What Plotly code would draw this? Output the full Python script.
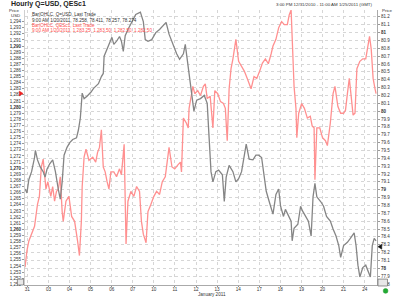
import plotly.graph_objects as go

# ---------------- data ----------------
day_labels = ["31", "03", "04", "05", "06", "07", "10", "11", "12", "13",
              "14", "17", "18", "19", "20", "21", "24"]

# QESc1 (left axis) - position in trading days since 31 Dec, price
es_x = [-0.11, -0.02, 0.07, 0.20, 0.34, 0.48, 0.57, 0.66, 0.75, 0.88, 0.97, 1.11, 1.20, 1.29, 1.38,
        1.47, 1.56, 1.65, 1.70, 1.83, 1.97, 2.10, 2.24, 2.38, 2.47, 2.56, 2.60, 2.69, 2.78, 2.92,
        3.10, 3.24, 3.33, 3.42, 3.51, 3.60, 3.69, 3.78, 3.87, 3.96, 4.10, 4.23, 4.37, 4.46, 4.55,
        4.59, 4.68, 4.77, 4.91, 5.05, 5.18, 5.32, 5.41, 5.50, 5.63, 5.72, 5.86, 6.00, 6.13, 6.27,
        6.40, 6.54, 6.63, 6.72, 6.86, 6.99, 7.13, 7.26, 7.31, 7.40, 7.54, 7.63, 7.67, 7.76, 7.85,
        7.94, 8.08, 8.21, 8.35, 8.44, 8.53, 8.67, 8.80, 8.89, 9.03, 9.16, 9.30, 9.39, 9.48, 9.57,
        9.66, 9.75, 9.84, 9.89, 10.02, 10.16, 10.29, 10.43, 10.52, 10.61, 10.75, 10.88, 11.02, 11.15,
        11.29, 11.43, 11.56, 11.65, 11.79, 11.92, 12.06, 12.19, 12.33, 12.42, 12.51, 12.56, 12.60,
        12.65, 12.74, 12.78, 12.87, 13.01, 13.14, 13.28, 13.42, 13.51, 13.60, 13.64, 13.73, 13.87,
        14.00, 14.14, 14.23, 14.37, 14.50, 14.59, 14.73, 14.86, 15.00, 15.09, 15.18, 15.27, 15.37,
        15.45, 15.54, 15.63, 15.77, 15.91, 16.05, 16.14, 16.23, 16.31, 16.40, 16.49, 16.54]
es_y = [1253.8, 1256.5, 1258.1, 1259.2, 1260.5, 1264.1, 1265.4, 1270.2, 1271.5, 1266.6, 1267.8, 1265.4,
        1267.0, 1264.6, 1266.2, 1266.6, 1268.6, 1262.9, 1261.3, 1264.6, 1265.4, 1262.1, 1261.3, 1258.1,
        1255.7, 1261.3, 1267.0, 1271.8, 1273.1, 1271.3, 1271.8, 1271.0, 1272.6, 1273.4, 1276.3, 1270.2,
        1269.4, 1267.8, 1266.6, 1269.4, 1269.4, 1268.6, 1269.9, 1268.9, 1271.8, 1273.9, 1257.6, 1264.6,
        1266.2, 1265.4, 1267.0, 1266.2, 1261.3, 1259.2, 1257.8, 1262.9, 1264.1, 1265.4, 1266.2, 1265.7,
        1267.8, 1268.6, 1271.0, 1273.4, 1270.2, 1269.9, 1270.5, 1271.0, 1269.4, 1278.2, 1277.4, 1276.6,
        1279.8, 1281.4, 1283.4, 1282.2, 1282.7, 1281.9, 1283.4, 1283.8, 1281.4, 1281.8, 1276.6, 1282.7,
        1282.2, 1280.9, 1280.6, 1279.8, 1274.5, 1283.0, 1286.3, 1287.9, 1289.8, 1291.1, 1287.5, 1286.6,
        1285.9, 1284.7, 1283.8, 1283.0, 1285.0, 1284.7, 1285.9, 1287.2, 1287.9, 1287.1, 1288.7, 1290.0,
        1291.1, 1293.0, 1294.0, 1293.5, 1293.5, 1295.1, 1295.9, 1291.9, 1287.9, 1283.4, 1279.8, 1275.0,
        1279.0, 1280.6, 1279.8, 1278.2, 1278.5, 1276.9, 1276.6, 1268.1, 1276.6, 1276.6, 1275.0, 1274.5,
        1273.7, 1277.4, 1282.2, 1283.4, 1280.1, 1279.0, 1279.0, 1279.5, 1282.2, 1284.7, 1281.4, 1278.7,
        1279.0, 1286.3, 1287.5, 1287.9, 1287.9, 1289.5, 1291.6, 1289.5, 1284.7, 1283.0, 1282.2]

# Q=USD (right axis)
usd_x = [-0.11, -0.02, 0.07, 0.20, 0.34, 0.38, 0.48, 0.61, 0.75, 0.84, 0.93, 1.06, 1.20, 1.33, 1.47,
         1.56, 1.65, 1.74, 1.88, 2.01, 2.15, 2.33, 2.42, 2.51, 2.60, 2.69, 2.83, 3.01, 3.14, 3.37,
         3.51, 3.60, 3.64, 3.78, 3.87, 4.01, 4.10, 4.23, 4.37, 4.46, 4.55, 4.64, 4.77, 4.95, 5.14,
         5.36, 5.50, 5.59, 5.72, 5.90, 6.09, 6.27, 6.45, 6.58, 6.72, 6.90, 7.08, 7.22, 7.40, 7.49,
         7.63, 7.76, 7.90, 8.03, 8.21, 8.39, 8.53, 8.62, 8.71, 8.80, 8.94, 9.07, 9.25, 9.34, 9.43,
         9.57, 9.75, 9.89, 10.02, 10.16, 10.29, 10.38, 10.52, 10.70, 10.84, 10.97, 11.11, 11.24, 11.33,
         11.47, 11.65, 11.79, 11.92, 12.01, 12.15, 12.24, 12.38, 12.51, 12.56, 12.65, 12.83, 12.96,
         13.05, 13.19, 13.33, 13.46, 13.55, 13.64, 13.73, 13.91, 14.05, 14.19, 14.37, 14.50, 14.64,
         14.77, 14.86, 15.00, 15.18, 15.32, 15.50, 15.59, 15.68, 15.77, 15.91, 16.05, 16.18, 16.27,
         16.36, 16.45, 16.54]
usd_y = [79.01, 78.96, 79.13, 79.23, 79.41, 79.50, 79.38, 79.29, 79.23, 79.16, 79.26, 79.33, 79.38,
         79.23, 79.00, 78.88, 79.10, 79.44, 79.54, 79.60, 79.64, 79.66, 79.76, 79.91, 80.23, 80.16,
         80.19, 80.24, 80.29, 80.35, 80.44, 80.48, 80.70, 80.79, 80.85, 80.94, 80.85, 80.89, 80.95,
         80.89, 80.76, 80.96, 81.04, 81.14, 81.23, 81.26, 81.14, 80.91, 80.89, 80.91, 81.00, 81.04,
         81.09, 81.13, 80.98, 80.85, 80.73, 80.66, 80.73, 80.85, 80.54, 80.25, 80.00, 80.14, 80.16,
         80.20, 80.10, 79.66, 79.23, 79.10, 79.23, 79.25, 79.19, 78.85, 79.16, 79.31, 79.23, 79.10,
         79.14, 79.23, 79.41, 79.58, 79.39, 79.38, 79.44, 79.44, 79.41, 79.19, 78.98, 78.85, 78.69,
         78.94, 79.01, 78.79, 78.66, 78.75, 78.66, 78.60, 78.35, 78.51, 78.56, 78.79, 78.73, 78.66,
         78.60, 78.41, 78.91, 79.08, 78.91, 78.85, 78.79, 78.66, 78.60, 78.50, 78.41, 78.29, 78.14,
         78.29, 78.33, 78.38, 78.45, 78.29, 78.04, 77.89, 78.01, 78.04, 77.94, 77.89, 78.29, 78.38,
         78.35]

left_ticks = list(range(1251, 1295))
right_ticks = [round(77.8 + 0.1 * i, 1) for i in range(35)]

# ---------------- layout helpers ----------------
W, H = 400, 302
L, R, T, B = 17, 14, 10, 12
PW, PH = W - L - R, H - T - B


def px(x):
    return (x - L) / PW


def py(y):
    return (H - B - y) / PH


FONT = "Liberation Sans, Arial, sans-serif"

left_text = [("<b>{:,}</b>".format(v) if v % 10 == 0 else "{:,}".format(v)) for v in left_ticks]
right_text = [("<b>%d</b>" % round(v)) if abs(v - round(v)) < 1e-6 else ("%.1f" % v) for v in right_ticks]

fig = go.Figure()
fig.add_trace(go.Scatter(x=es_x, y=es_y, mode="lines", yaxis="y",
                         line=dict(color="#ff9090", width=1.3), name="QESc1"))
fig.add_trace(go.Scatter(x=usd_x, y=usd_y, mode="lines", yaxis="y2",
                         line=dict(color="#858585", width=1.3), name="Q=USD"))

GRID = "#d6d6d6"
fig.update_layout(
    width=W, height=H, margin=dict(l=L, r=R, t=T, b=B, pad=0),
    paper_bgcolor="white", plot_bgcolor="white", showlegend=False,
    font=dict(family=FONT, size=5, color="#333333"),
    xaxis=dict(range=[-0.113, 16.584], tickvals=list(range(len(day_labels))), ticktext=day_labels,
               showgrid=True, gridcolor=GRID, griddash="dot", gridwidth=1,
               ticks="outside", ticklen=1, tickcolor="#888", tickfont=dict(size=4.6, color="#333"),
               ticklabelstandoff=-2,
               showline=True, linecolor="#aaaaaa", zeroline=False),
    yaxis=dict(range=[1250.88, 1295.9], tickvals=left_ticks, ticktext=left_text, side="left",
               showgrid=False, ticks="outside", ticklen=2, tickcolor="#999",
               tickfont=dict(size=4.5, color="#333"), showline=True, linecolor="#d0d0d0",
               zeroline=False),
    yaxis2=dict(range=[77.7875, 81.2875], tickvals=right_ticks, ticktext=right_text, side="right",
                overlaying="y", showgrid=True, gridcolor=GRID, griddash="dot", gridwidth=1,
                ticks="outside", ticklen=2, tickcolor="#999", tickfont=dict(size=4.5, color="#333"),
                showline=True, linecolor="#aaaaaa", zeroline=False),
)

ann = []


def text(x, y, s, size=5, color="#333", xanchor="left", bold=False):
    ann.append(dict(x=px(x), y=py(y), xref="paper", yref="paper", text=("<b>%s</b>" % s) if bold else s,
                    showarrow=False, xanchor=xanchor, yanchor="middle",
                    font=dict(size=size, color=color, family=FONT)))


text(0, 3.8, "Hourly Q=USD, QESc1", size=7, color="#222", bold=True)
text(384, 4, "3:00 PM 12/31/2010 - 11:00 AM 1/25/2011 (GMT)", size=4.4, xanchor="right")
text(14, 10.5, "Price", size=4.4, xanchor="right")
text(14, 15.5, "USD", size=4.4, xanchor="right")
text(389, 10, "Price", size=4.4)
text(22, 15, "Bar|OHLC, Q=USD, Last Trade", size=4.6, color="#333")
text(22, 20.5, "9:00 AM 1/20/2011, 78.258, 78.411, 78.257, 78.274", size=4.6, color="#333")
text(22, 25.5, "Bar|OHLC, QESc1, Last Trade", size=4.6, color="#ff5050")
text(22, 31, "9:00 AM 1/20/2011, 1,283.25, 1,283.50, 1,282.50, 1,282.50", size=4.6, color="#ff5050")
text(213, 299.3, "January 2011", size=4.6, xanchor="center")
fig.update_layout(annotations=ann)

shapes = [
    # scale boxes
    dict(type="rect", xref="paper", yref="paper", x0=px(9), x1=px(15.5), y0=py(290), y1=py(284),
         line=dict(color="#777", width=0.8), fillcolor="#e8e8e8"),
    dict(type="rect", xref="paper", yref="paper", x0=px(387), x1=px(397), y0=py(291), y1=py(284),
         line=dict(color="#777", width=0.8), fillcolor="#e8e8e8"),
    # green status dot
    dict(type="circle", xref="paper", yref="paper", x0=px(392.5), x1=px(397.5), y0=py(298.5), y1=py(293.5),
         line=dict(color="#1a9a2a", width=0.5), fillcolor="#22aa33"),
    # last-value markers
    dict(type="path", xref="paper", yref="paper",
         path="M %f %f L %f %f L %f %f Z" % (px(11), py(92.5), px(15), py(95), px(11), py(97.5)),
         line=dict(color="#ee2222", width=0.5), fillcolor="#ee2222"),
    dict(type="path", xref="paper", yref="paper",
         path="M %f %f L %f %f L %f %f Z" % (px(391), py(248.5), px(387), py(251), px(391), py(253.5)),
         line=dict(color="#111", width=0.5), fillcolor="#111"),
]
fig.update_layout(shapes=shapes)

fig.write_html("out.html")
